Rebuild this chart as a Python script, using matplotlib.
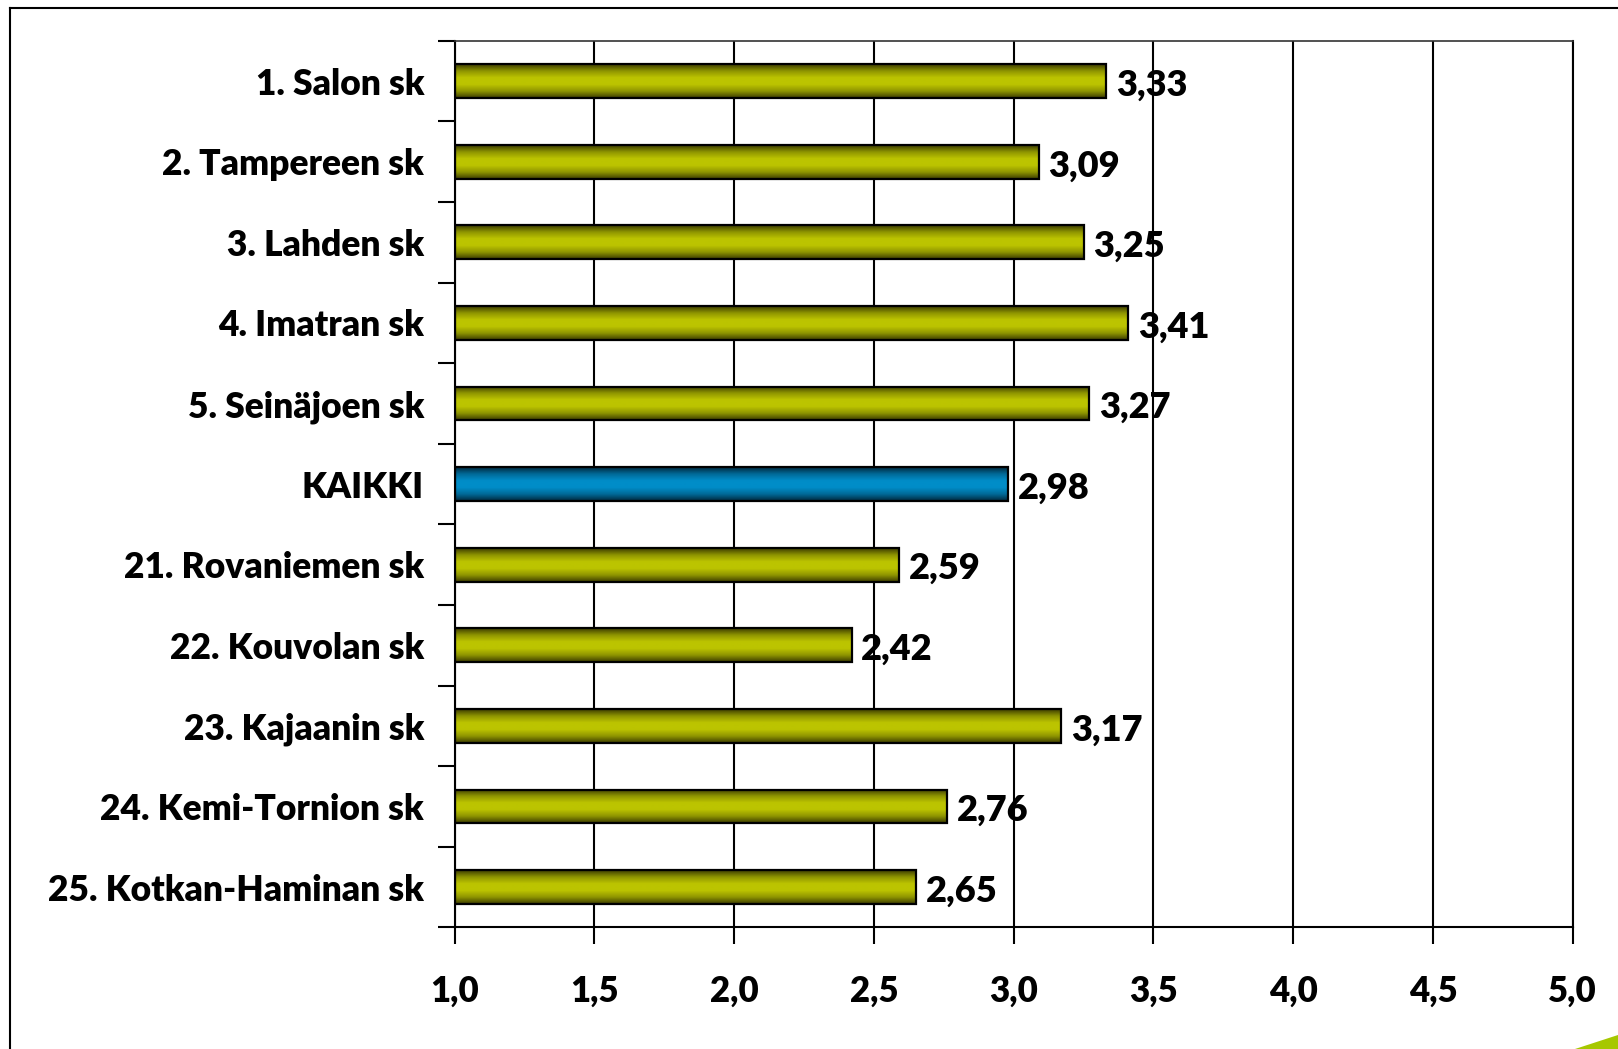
import numpy as np
import matplotlib
matplotlib.use("Agg")
import matplotlib.pyplot as plt
from matplotlib.colors import LinearSegmentedColormap
from matplotlib.patches import Polygon

categories = ["1. Salon sk", "2. Tampereen sk", "3. Lahden sk", "4. Imatran sk",
              "5. Seinäjoen sk", "KAIKKI", "21. Rovaniemen sk", "22. Kouvolan sk",
              "23. Kajaanin sk", "24. Kemi-Tornion sk", "25. Kotkan-Haminan sk"]
values = [3.33, 3.09, 3.25, 3.41, 3.27, 2.98, 2.59, 2.42, 3.17, 2.76, 2.65]
highlight = "KAIKKI"
xticks = [1.0, 1.5, 2.0, 2.5, 3.0, 3.5, 4.0, 4.5, 5.0]
xmin, xmax = 1.0, 5.0

plt.rcParams["font.family"] = ["Lato", "DejaVu Sans"]
W = "heavy"

olive = LinearSegmentedColormap.from_list(
    "olive", ["#3e3e00", "#8f9500", "#bcc400", "#bcc400", "#8f9500", "#3e3e00"])
blue = LinearSegmentedColormap.from_list(
    "blue", ["#002a40", "#006a98", "#008dc8", "#008dc8", "#006a98", "#002a40"])

fig = plt.figure(figsize=(16.18, 10.49), dpi=100)
ax = fig.add_axes([0.281, 0.116, 0.691, 0.845])

n = len(categories)
ypos = np.arange(n)
h = 0.42
grad = np.linspace(0, 1, 64).reshape(-1, 1)

for y, v, c in zip(ypos, values, categories):
    cmap = blue if c == highlight else olive
    ax.imshow(grad, cmap=cmap, aspect="auto", extent=[xmin, v, y + h / 2, y - h / 2],
              zorder=2, interpolation="bilinear")
    ax.text(v + 0.035, y + 0.05, f"{v:.2f}".replace(".", ","), fontsize=26,
            fontweight=W, va="center", ha="left", zorder=4)

ax.barh(ypos, [v - xmin for v in values], left=xmin, height=h, facecolor="none",
        edgecolor="black", linewidth=1.6, zorder=3)

ax.set_xlim(xmin, xmax)
ax.set_ylim(n - 0.5, -0.5)
ax.set_xticks(xticks)
ax.set_xticklabels([f"{t:.1f}".replace(".", ",") for t in xticks], fontsize=25,
                   fontweight=W)
ax.xaxis.grid(True, color="black", linewidth=1.5, zorder=1)
ax.set_axisbelow(True)

ax.set_yticks(ypos)
ax.set_yticklabels(categories, fontsize=25.5, fontweight=W)
ax.tick_params(axis="y", which="major", length=0, pad=22)
ax.set_yticks(np.arange(n + 1) - 0.5, minor=True)
ax.tick_params(axis="y", which="minor", length=12, width=1.5, direction="out")
ax.tick_params(axis="x", length=12, width=1.5, direction="out", pad=22)

for s in ax.spines.values():
    s.set_linewidth(1.5)
ax.spines["top"].set_color("#333333")
ax.spines["top"].set_linewidth(1.2)

# outer frame (top and left edges visible)
fig.add_artist(plt.Line2D([10 / 1618, 1.0], [1 - 8 / 1049, 1 - 8 / 1049],
                          color="black", linewidth=1.5, transform=fig.transFigure))
fig.add_artist(plt.Line2D([10 / 1618, 10 / 1618], [0, 1 - 8 / 1049],
                          color="black", linewidth=1.5, transform=fig.transFigure))

# green corner decoration
fig.add_artist(Polygon([[1575 / 1618, 0], [1.0, 0], [1.0, 14 / 1049]],
                       closed=True, facecolor="#a6c800", edgecolor="none",
                       transform=fig.transFigure))

fig.savefig("out.png", dpi=100)
